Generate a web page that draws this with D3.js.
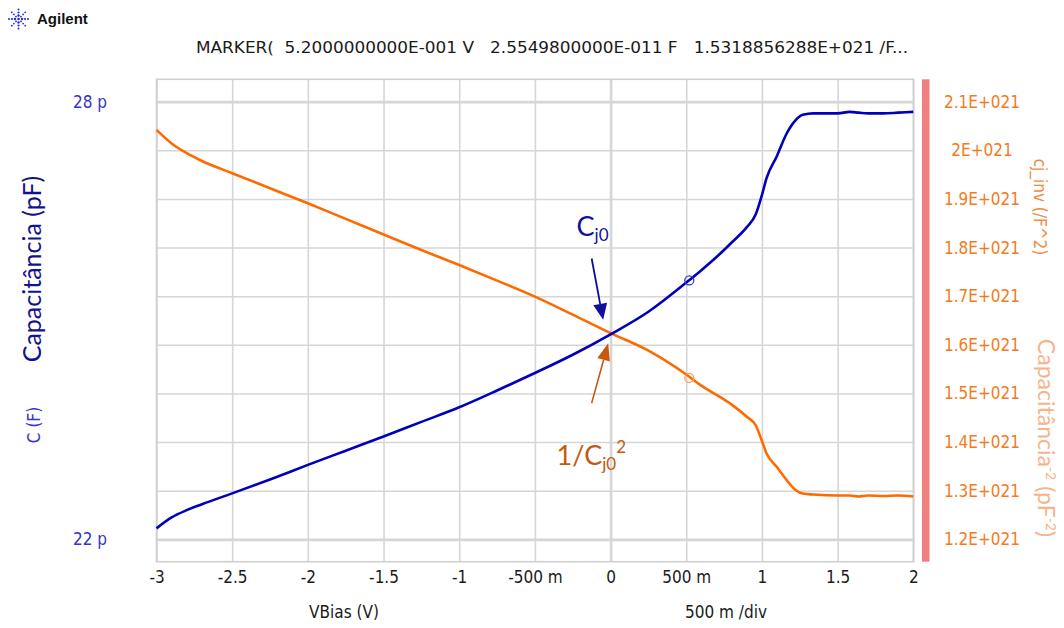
<!DOCTYPE html>
<html lang="pt">
<head>
    <meta charset="UTF-8">
    <title>C-V / 1/C^2</title>
    <style>
        body { margin: 0; background: #fff; }
        svg text { font-family: 'DejaVu Sans Condensed', 'DejaVu Sans', sans-serif; }
    </style>
</head>
<body>

<div id="chart"></div>
<script src="https://d3js.org/d3.v7.min.js"></script>
<script>

// ---- values ----
const vBias = [-3, -2.9, -2.8, -2.7, -2.5, -2.25, -2, -1.75, -1.5, -1.25, -1, -0.75, -0.5, -0.25,
    0, 0.25, 0.5, 0.6, 0.7, 0.8, 0.9, 0.96, 1.0, 1.03, 1.1, 1.16, 1.22, 1.27, 1.34, 1.5,
    1.58, 1.64, 1.7, 1.8, 1.9, 2.0];

// C (pF)
const capPF = [22.15, 22.30, 22.40, 22.48, 22.63, 22.82, 23.02, 23.215, 23.41, 23.61, 23.81, 24.04, 24.28, 24.53,
    24.81, 25.12, 25.52, 25.69, 25.87, 26.07, 26.28, 26.46, 26.72, 26.95, 27.26, 27.55, 27.74, 27.82, 27.84, 27.84,
    27.86, 27.85, 27.84, 27.84, 27.85, 27.86];

// cj_inv (E+021 /F^2)
const capInv = [2.042, 2.014, 1.994, 1.978, 1.953, 1.922, 1.891, 1.859, 1.827, 1.795, 1.764, 1.732, 1.699, 1.662,
    1.624, 1.588, 1.539, 1.516, 1.497, 1.477, 1.452, 1.434, 1.402, 1.377, 1.348, 1.323, 1.302, 1.294, 1.292, 1.290,
    1.290, 1.288, 1.290, 1.289, 1.290, 1.288];

const markerV = [0.52];
const markerC = [25.5498];
const markerInv = [1.5318856288];

const xTicks = [-3, -2.5, -2, -1.5, -1, -0.5, 0, 0.5, 1, 1.5, 2];
const xTickLabels = ["-3", "-2.5", "-2", "-1.5", "-1", "-500 m", "0", "500 m", "1", "1.5", "2"];
const leftTicks = [22, 28];
const leftTickLabels = ["22 p", "28 p"];
const rightTicks = [1.2, 1.3, 1.4, 1.5, 1.6, 1.7, 1.8, 1.9, 2.0, 2.1];
const rightTickLabels = ["1.2E+021", "1.3E+021", "1.4E+021", "1.5E+021", "1.6E+021",
    "1.7E+021", "1.8E+021", "1.9E+021", "2E+021", "2.1E+021"];

// ---- page ----
const W = 1064, H = 628;
const box = {left: 156.5, right: 913.3, top: 79.3, bottom: 561.7};
const inner = {top: 101.7, bottom: 539.3};   // where the first/last tick sit

const svg = d3.select("#chart").append("svg")
    .attr("width", W).attr("height", H);

const x = d3.scaleLinear().domain([-3, 2]).range([box.left, box.right]);
const yL = d3.scaleLinear().domain([22, 28]).range([inner.bottom, inner.top]);
const yR = d3.scaleLinear().domain([1.2, 2.1]).range([inner.bottom, inner.top]);

const lato = "Lato, 'Open Sans', sans-serif";
const tickSize = 17;

// logo
const logo = svg.append("g").attr("transform", "translate(18.5,19)");
for (let k = 0; k < 8; k++) {
    const a = k * Math.PI / 4;
    [3.5, 6.5, 9.5].forEach((r, i) => {
        logo.append("circle")
            .attr("cx", r * Math.cos(a)).attr("cy", r * Math.sin(a))
            .attr("r", k % 2 ? 0.9 : 1.2 - i * 0.1)
            .attr("fill", "#2b2bd0");
    });
}
logo.append("circle").attr("r", 1.3).attr("fill", "#2b2bd0");
svg.append("text")
    .attr("x", 37).attr("y", 23.5)
    .style("font-family", "'Liberation Sans', Arial, sans-serif")
    .attr("font-weight", "bold").attr("font-size", 15)
    .attr("fill", "#111")
    .text("Agilent");

// marker readout
svg.append("text")
    .attr("x", 196).attr("y", 53)
    .attr("font-size", 15.5)
    .attr("fill", "#1a1a1a")
    .attr("textLength", 712).attr("lengthAdjust", "spacingAndGlyphs")
    .attr("xml:space", "preserve")
    .text("MARKER(  5.2000000000E-001 V   2.5549800000E-011 F   1.5318856288E+021 /F...");

// vertical grid
const vGrid = svg.append("g")
    .attr("transform", `translate(0, ${box.bottom})`)
    .call(d3.axisBottom(x).tickValues(xTicks).tickSize(-(box.bottom - box.top)).tickFormat(""));
vGrid.select(".domain").remove();
vGrid.selectAll("line")
    .attr("stroke", "#d6d6d6")
    .attr("stroke-width", d => d === 0 ? 2.6 : 1.6);

// horizontal grid
const hGrid = svg.append("g")
    .attr("transform", `translate(${box.left}, 0)`)
    .call(d3.axisLeft(yR).tickValues(rightTicks).tickSize(-(box.right - box.left)).tickFormat(""));
hGrid.select(".domain").remove();
hGrid.selectAll("line")
    .attr("stroke", "#d6d6d6")
    .attr("stroke-width", d => (d === 1.2 || d === 2.1) ? 2.8 : 1.6);

// frame
svg.append("rect")
    .attr("x", box.left).attr("y", box.top)
    .attr("width", box.right - box.left).attr("height", box.bottom - box.top)
    .attr("fill", "none").attr("stroke", "#cfcfcf").attr("stroke-width", 1.6);

// right axis bar
svg.append("rect")
    .attr("x", 922).attr("y", box.top)
    .attr("width", 7.5).attr("height", box.bottom - box.top)
    .attr("fill", "#f08080");

// bottom axis labels
const xAxis = svg.append("g")
    .attr("transform", `translate(0, ${box.bottom})`)
    .call(d3.axisBottom(x).tickValues(xTicks).tickSize(0)
        .tickFormat((d, i) => xTickLabels[i]));
xAxis.select(".domain").remove();
xAxis.selectAll("text")
    .attr("y", 21.5).attr("dy", 0)
    .attr("font-family", null)
    .attr("font-size", tickSize).attr("fill", "#1a1a1a");

// left axis labels
const lAxis = svg.append("g")
    .attr("transform", "translate(107, 0)")
    .call(d3.axisLeft(yL).tickValues(leftTicks).tickSize(0).tickPadding(0)
        .tickFormat((d, i) => leftTickLabels[i]));
lAxis.select(".domain").remove();
lAxis.selectAll("text")
    .attr("font-family", null)
    .attr("font-size", tickSize).attr("fill", "#3535c8");

// right axis labels
const rAxis = svg.append("g")
    .attr("transform", "translate(982, 0)")
    .call(d3.axisRight(yR).tickValues(rightTicks).tickSize(0).tickPadding(0)
        .tickFormat((d, i) => rightTickLabels[i]));
rAxis.select(".domain").remove();
rAxis.selectAll("text")
    .attr("text-anchor", "middle")
    .attr("font-family", null)
    .attr("font-size", tickSize).attr("fill", "#f47a22");

// axis titles
svg.append("text")
    .attr("transform", "translate(41, 269) rotate(-90)")
    .attr("text-anchor", "middle")
    .style("font-family", lato)
    .attr("font-size", 25).attr("fill", "#12128c")
    .text("Capacitância (pF)");

svg.append("text")
    .attr("transform", "translate(40, 425) rotate(-90)")
    .attr("text-anchor", "middle")
    .attr("font-size", tickSize).attr("fill", "#3535c8")
    .text("C (F)");

svg.append("text")
    .attr("transform", "translate(1034, 207) rotate(90)")
    .attr("text-anchor", "middle")
    .attr("font-size", tickSize).attr("fill", "#f08a45")
    .text("cj_inv (/F^2)");

const capTitle = svg.append("text")
    .attr("transform", "translate(1038, 438) rotate(90)")
    .attr("text-anchor", "middle")
    .style("font-family", lato)
    .attr("font-size", 23).attr("fill", "#f6b48c");
capTitle.append("tspan").text("Capacitância");
capTitle.append("tspan").attr("font-size", 14).attr("dy", -8).text("-2");
capTitle.append("tspan").attr("dy", 8).text(" (pF");
capTitle.append("tspan").attr("font-size", 14).attr("dy", -8).text("-2");
capTitle.append("tspan").attr("dy", 8).text(")");

svg.append("text")
    .attr("x", 344).attr("y", 618)
    .attr("text-anchor", "middle")
    .attr("font-size", tickSize).attr("fill", "#1a1a1a")
    .text("VBias (V)");

svg.append("text")
    .attr("x", 726).attr("y", 618)
    .attr("text-anchor", "middle")
    .attr("font-size", tickSize).attr("fill", "#1a1a1a")
    .text("500 m /div");

// traces
const capLine = d3.line().curve(d3.curveMonotoneX).x(d => x(d[0])).y(d => yL(d[1]));
const invLine = d3.line().curve(d3.curveMonotoneX).x(d => x(d[0])).y(d => yR(d[1]));

svg.append("path")
    .datum(d3.zip(vBias, capInv))
    .attr("d", invLine)
    .attr("fill", "none").attr("stroke", "#ff6a00").attr("stroke-width", 2.6);

svg.append("path")
    .datum(d3.zip(vBias, capPF))
    .attr("d", capLine)
    .attr("fill", "none").attr("stroke", "#0000b8").attr("stroke-width", 2.6);

// marker circles
svg.selectAll(".mkC")
    .data(d3.zip(markerV, markerC))
    .join("circle")
    .attr("cx", d => x(d[0])).attr("cy", d => yL(d[1])).attr("r", 4.5)
    .attr("fill", "none").attr("stroke", "#3a3ac8").attr("stroke-width", 1.3);

svg.selectAll(".mkI")
    .data(d3.zip(markerV, markerInv))
    .join("circle")
    .attr("cx", d => x(d[0])).attr("cy", d => yR(d[1])).attr("r", 4.5)
    .attr("fill", "none").attr("stroke", "#ff9a62").attr("stroke-width", 1.3);

// annotations
function arrow(x1, y1, x2, y2, color, w, headLen, headW) {
    const a = Math.atan2(y2 - y1, x2 - x1);
    const bx = x2 - headLen * Math.cos(a), by = y2 - headLen * Math.sin(a);
    svg.append("line")
        .attr("x1", x1).attr("y1", y1).attr("x2", bx).attr("y2", by)
        .attr("stroke", color).attr("stroke-width", w);
    const px = Math.sin(a) * headW / 2, py = -Math.cos(a) * headW / 2;
    svg.append("path")
        .attr("d", `M${x2},${y2}L${bx + px},${by + py}L${bx - px},${by - py}Z`)
        .attr("fill", color);
}

arrow(x(-0.125), yL(25.85), x(-0.049), yL(25.01), "#10109a", 1.8, 16, 14);
arrow(x(-0.125), yR(1.480), x(-0.016), yR(1.603), "#c5590f", 1.6, 17, 13);

const cj = svg.append("text")
    .attr("x", x(-0.225)).attr("y", yL(26.16))
    .style("font-family", lato)
    .attr("font-size", 27).attr("fill", "#10109a");
cj.append("tspan").text("C");
cj.append("tspan").attr("font-size", 17).attr("dy", 5).text("j0");

const inv = svg.append("text")
    .attr("x", x(-0.357)).attr("y", yR(1.353))
    .style("font-family", lato)
    .attr("font-size", 27).attr("fill", "#c5590f");
inv.append("tspan").text("1/C");
inv.append("tspan").attr("font-size", 17).attr("dy", 5).text("j0");
inv.append("tspan").attr("font-size", 17).attr("dy", -17).text("2");

</script>
</body>
</html>
